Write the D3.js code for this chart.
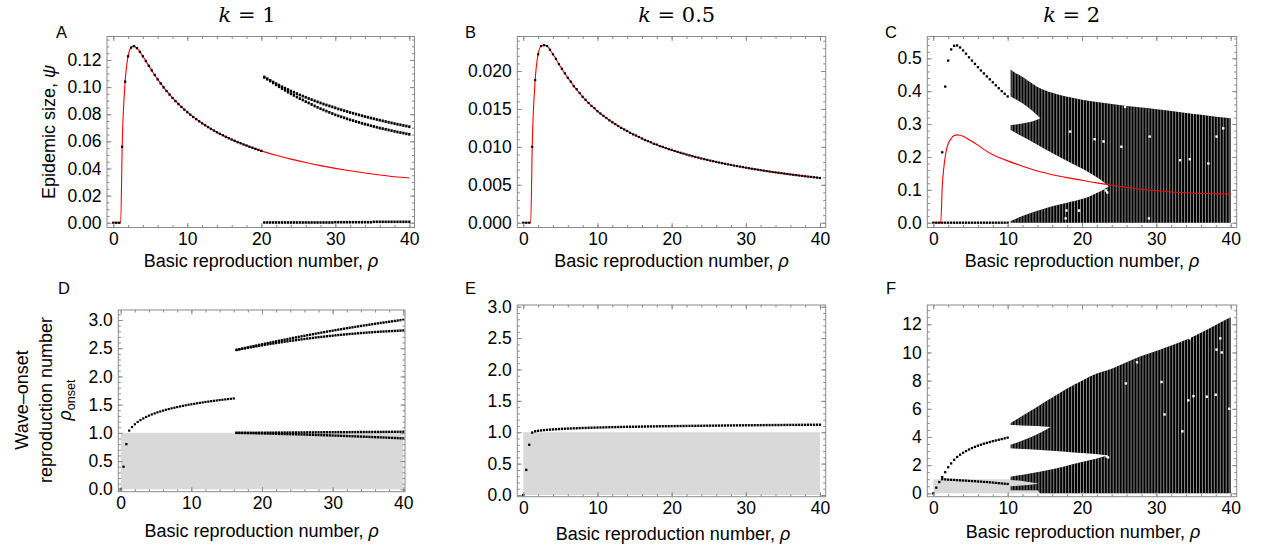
<!DOCTYPE html>
<html>
<head>
<meta charset="utf-8">
<script src="https://cdn.jsdelivr.net/npm/d3@7"></script>
<style>
body { margin: 0; background: #fff; }
svg text { fill: #000; }
.tk { font-family: "Liberation Sans", Arial, sans-serif; font-size: 17.5px; }
.lab { font-family: "Liberation Sans", Arial, sans-serif; font-size: 18px; }
.let { font-family: "Liberation Sans", Arial, sans-serif; font-size: 16.5px; }
.ttl { font-family: "DejaVu Serif", serif; font-size: 21px; }
</style>
</head>
<body>
<svg id="fig" width="1262" height="555"></svg>
<script>
// ---------- data ----------
const K_LABELS = ["1", "0.5", "2"];
const X_TICKS = [0, 10, 20, 30, 40];
const Y_TICKS_A = [0, 0.02, 0.04, 0.06, 0.08, 0.10, 0.12];
const Y_TICKS_B = [0, 0.005, 0.010, 0.015, 0.020];
const Y_TICKS_C = [0, 0.1, 0.2, 0.3, 0.4, 0.5];
const Y_TICKS_DE = [0, 0.5, 1.0, 1.5, 2.0, 2.5, 3.0];
const Y_TICKS_F = [0, 2, 4, 6, 8, 10, 12];
const ONSET_ZONE = [0, 1];   // grey band, rho_onset below 1
const RHO_SPAN = [0, 40];

// simulation grid of rho
const RHO = [0,0.4,0.8,1.2,1.6,2,2.4,2.8,3.2,3.6,
  4,4.4,4.8,5.2,5.6,6,6.4,6.8,7.2,7.6,
  8,8.4,8.8,9.2,9.6,10,10.4,10.8,11.2,11.6,
  12,12.4,12.8,13.2,13.6,14,14.4,14.8,15.2,15.6,
  16,16.4,16.8,17.2,17.6,18,18.4,18.8,19.2,19.6,
  20,20.4,20.8,21.2,21.6,22,22.4,22.8,23.2,23.6,
  24,24.4,24.8,25.2,25.6,26,26.4,26.8,27.2,27.6,
  28,28.4,28.8,29.2,29.6,30,30.4,30.8,31.2,31.6,
  32,32.4,32.8,33.2,33.6,34,34.4,34.8,35.2,35.6,
  36,36.4,36.8,37.2,37.6,38,38.4,38.8,39.2,39.6,
  40];

// A: k = 1, epidemic size
const aRedRho = [0,0.8,1.0,1.2,1.6,2,2.4,2.8,3.2,3.6,4,5,6,8,10,12,14,16,18,20,22,24,26,28,30,32,34,36,38,40];
const aRed = [0,0,0,0.056,0.104,0.1227,0.1291,0.1302,0.1287,0.1260,0.1227,0.1140,0.1057,0.0920,0.0815,0.0733,0.0667,0.0613,0.0569,0.0530,0.0497,0.0469,0.0444,0.0421,0.0401,0.0383,0.0367,0.0352,0.0339,0.0330];
const aDots = [0,0,0,0.056,0.104,0.1227,0.1291,0.1302,0.1287,0.1260,
  0.1227,0.1192,0.1157,0.1123,0.1089,0.1057,0.1027,0.0998,0.0971,0.0945,
  0.0920,0.0897,0.0875,0.0854,0.0834,0.0815,0.0797,0.0780,0.0764,0.0748,
  0.0733,0.0719,0.0705,0.0692,0.0679,0.0667,0.0656,0.0645,0.0634,0.0623,
  0.0613,0.0604,0.0594,0.0586,0.0577,0.0569,0.0560,0.0553,0.0545,0.0537,
  0.0530];
const aUp = [0.1073,0.1061,0.1049,0.1037,0.1025,0.1014,0.1002,0.0992,0.0982,0.0971,
  0.0962,0.0952,0.0942,0.0934,0.0925,0.0916,0.0908,0.0899,0.0891,0.0883,
  0.0875,0.0868,0.0861,0.0854,0.0847,0.0839,0.0833,0.0826,0.0820,0.0813,
  0.0807,0.0801,0.0795,0.0789,0.0783,0.0778,0.0772,0.0767,0.0761,0.0756,
  0.0751,0.0746,0.0741,0.0736,0.0731,0.0726,0.0722,0.0717,0.0713,0.0708];
const aLo = [0.1073,0.1059,0.1045,0.1031,0.1017,0.1003,0.0989,0.0976,0.0963,0.0951,
  0.0939,0.0927,0.0915,0.0905,0.0893,0.0883,0.0872,0.0861,0.0851,0.0841,
  0.0832,0.0823,0.0814,0.0805,0.0796,0.0788,0.0781,0.0774,0.0766,0.0759,
  0.0753,0.0746,0.0740,0.0733,0.0727,0.0722,0.0715,0.0710,0.0704,0.0698,
  0.0694,0.0689,0.0684,0.0679,0.0674,0.0669,0.0665,0.0661,0.0656,0.0652];
const aZero = [0.0002,0.0002,0.0002,0.0002,0.0002,0.0002,0.0002,0.0002,0.0002,0.0002,
  0.0002,0.0002,0.0002,0.0002,0.0002,0.0002,0.0002,0.0002,0.0002,0.0002,
  0.0002,0.0002,0.0002,0.0002,0.0004,0.0004,0.0004,0.0004,0.0004,0.0004,
  0.0004,0.0004,0.0004,0.0004,0.0004,0.0004,0.0004,0.0007,0.0007,0.0007,
  0.0007,0.0007,0.0007,0.0007,0.0007,0.0007,0.0007,0.0007,0.0007,0.0007];

// B: k = 0.5, epidemic size
const bRedRho = [0,0.8,1.0,1.2,1.6,2,2.4,2.8,3.2,3.6,4,5,6,8,10,12,14,16,18,20,24,28,32,36,40];
const bRed = [0,0,0,0.0100,0.0188,0.0222,0.0233,0.0234,0.0233,0.0228,0.0222,0.0206,0.0191,0.0166,0.0147,0.01325,0.01206,0.01109,0.01028,0.00959,0.00847,0.00762,0.00693,0.00637,0.0059];
const bDots = [0,0,0,0.0100,0.0188,0.0222,0.0233,0.0234,0.0233,0.0228,
  0.0222,0.0216,0.0209,0.0203,0.0197,0.0191,0.0186,0.0180,0.0176,0.0171,
  0.0166,0.0162,0.0158,0.0154,0.0151,0.0147,0.0144,0.0141,0.0138,0.0135,
  0.01325,0.0130,0.01275,0.0125,0.0123,0.0121,0.01185,0.01165,0.0115,0.0113,
  0.0111,0.0109,0.01075,0.0106,0.0104,0.0103,0.0101,0.0100,0.00985,0.0097,
  0.0096,0.00946,0.00934,0.00922,0.00911,0.00899,0.00888,0.00877,0.00867,0.00858,
  0.00847,0.00838,0.00829,0.00819,0.00811,0.00802,0.00794,0.00785,0.00777,0.00769,
  0.00762,0.00754,0.00747,0.0074,0.00733,0.00726,0.00719,0.00712,0.00706,0.0070,
  0.00693,0.00687,0.00681,0.00675,0.00669,0.00664,0.00659,0.00653,0.00648,0.00642,
  0.00637,0.00632,0.00627,0.00622,0.00618,0.00612,0.00608,0.00604,0.00599,0.00595,
  0.0059];

// C: k = 2, epidemic size
const cRedRho = [0,0.8,1.0,1.2,1.4,1.6,1.8,2.0,2.4,2.8,3.2,3.6,4,5,6,7,8,9,10,12,14,16,18,20,22,24,26,28,30,32,34,36,38,40];
const cRed = [0,0,0,0.11,0.165,0.2,0.225,0.24,0.256,0.265,0.267,0.266,0.263,0.25,0.236,0.22,0.207,0.197,0.188,0.172,0.157,0.146,0.137,0.129,0.121,0.114,0.1075,0.1015,0.097,0.0935,0.091,0.089,0.0878,0.087];
const cZero = [0,0,0,0,0,0,0,0,0,0,0,0,0,0,0,0,0,0,0,0,0,0,0,0,0,0];
const cUp = [0.214,0.414,0.493,0.527,0.538,0.539,0.533,0.524,0.514,0.503,0.493,0.483,0.473,0.463,0.454,0.445,0.436,0.427,0.418,0.409,0.400,0.392,0.384];
const cTopRho = [10.4,11,12,13,14,15,16,18,20,22,24,26,28,30,32,34,36,38,40];
const cTop = [0.466,0.456,0.443,0.428,0.413,0.403,0.395,0.383,0.374,0.367,0.361,0.355,0.350,0.345,0.340,0.334,0.328,0.322,0.318];
const cBaseRho = [10.4, 40];
const cBase = [0, 0];
const cNotchRho = [10.4,11.5,12.5,13.5,14.4];
const cNotchHi = [0.384,0.370,0.355,0.337,0.318];
const cNotchLo = [0.297,0.300,0.304,0.309,0.318];
const cGapRho = [10.4,12,14,16,18,20,21,22,23,23.6];
const cGapHi = [0.282,0.262,0.237,0.212,0.188,0.165,0.152,0.138,0.122,0.110];
const cGapLo = [0.005,0.020,0.036,0.050,0.061,0.072,0.080,0.090,0.102,0.110];
const cSpeckRho = [18.4,21.7,22.9,25.3,29.1,33.2,34.5,37.0,38.1,39.0,17.9,19.6,17.8,29.0,23.2,23.4,25.8];
const cSpeck = [0.277,0.254,0.247,0.231,0.262,0.190,0.193,0.180,0.262,0.287,0.037,0.037,0.013,0.013,0.098,0.092,0.352];

// D: k = 1, wave-onset reproduction number
const dStart = [0, 0.4, 0.8];
const dCurve = [1.040,1.103,1.152,1.193,1.227,1.256,1.282,1.305,
  1.326,1.345,1.363,1.379,1.394,1.408,1.422,1.434,1.446,1.457,
  1.468,1.478,1.488,1.498,1.507,1.515,1.523,1.531,1.539,1.547,
  1.554,1.561,1.568,1.574,1.581,1.587,1.593,1.599,1.604,1.610];
const dUH = [2.470,2.481,2.493,2.504,2.515,2.526,2.537,2.548,2.559,2.570,
  2.580,2.591,2.601,2.611,2.622,2.632,2.642,2.652,2.662,2.672,
  2.682,2.692,2.701,2.711,2.720,2.730,2.739,2.748,2.758,2.767,
  2.776,2.785,2.794,2.803,2.811,2.820,2.829,2.837,2.845,2.854,
  2.862,2.870,2.878,2.886,2.894,2.902,2.910,2.917,2.925,2.933,
  2.940,2.947,2.955,2.962,2.969,2.976,2.983,2.990,2.997,3.003];
const dUL = [2.470,2.480,2.489,2.498,2.507,2.516,2.525,2.534,2.543,2.551,
  2.560,2.568,2.576,2.584,2.592,2.600,2.607,2.615,2.622,2.629,
  2.636,2.643,2.650,2.657,2.663,2.670,2.676,2.682,2.689,2.695,
  2.700,2.706,2.712,2.717,2.722,2.728,2.733,2.738,2.742,2.747,
  2.752,2.756,2.760,2.764,2.769,2.772,2.776,2.780,2.783,2.787,
  2.790,2.793,2.796,2.799,2.802,2.804,2.807,2.809,2.812,2.814];
const dLH = [1.000,1.000,1.001,1.001,1.001,1.002,1.002,1.002,1.003,1.003,
  1.003,1.004,1.004,1.004,1.005,1.005,1.005,1.006,1.006,1.006,
  1.007,1.007,1.007,1.008,1.008,1.009,1.009,1.009,1.010,1.010,
  1.010,1.011,1.011,1.011,1.012,1.012,1.012,1.013,1.013,1.013,
  1.014,1.014,1.014,1.015,1.015,1.015,1.016,1.016,1.016,1.017,
  1.017,1.017,1.018,1.018,1.018,1.019,1.019,1.019,1.020,1.020];
const dLL = [1.000,0.999,0.998,0.997,0.996,0.995,0.994,0.992,0.991,0.990,
  0.989,0.988,0.986,0.985,0.984,0.982,0.981,0.980,0.978,0.977,
  0.976,0.974,0.973,0.971,0.970,0.968,0.966,0.965,0.963,0.962,
  0.960,0.958,0.957,0.955,0.953,0.951,0.950,0.948,0.946,0.944,
  0.942,0.940,0.938,0.936,0.934,0.932,0.930,0.928,0.926,0.924,
  0.922,0.920,0.918,0.916,0.913,0.911,0.909,0.907,0.904,0.902];

// E: k = 0.5, wave-onset reproduction number
const eStart = [0, 0.4, 0.8];
const eCurve = [0.995,1.015,1.023,1.029,1.034,1.038,1.042,1.045,1.048,1.051,
  1.054,1.056,1.058,1.060,1.062,1.064,1.066,1.068,1.069,1.071,
  1.072,1.074,1.075,1.076,1.077,1.079,1.080,1.081,1.082,1.083,
  1.084,1.085,1.086,1.087,1.088,1.088,1.089,1.090,1.091,1.092,
  1.093,1.093,1.094,1.095,1.095,1.096,1.097,1.097,1.098,1.099,
  1.099,1.100,1.101,1.101,1.102,1.102,1.103,1.103,1.104,1.104,
  1.105,1.105,1.106,1.106,1.107,1.107,1.108,1.108,1.109,1.109,
  1.110,1.110,1.111,1.111,1.111,1.112,1.112,1.113,1.113,1.114,
  1.114,1.114,1.115,1.115,1.115,1.116,1.116,1.117,1.117,1.117,
  1.118,1.118,1.118,1.119,1.119,1.119,1.120,1.120];

// F: k = 2, wave-onset reproduction number
const fStart = [0, 0.4, 0.8];
const fUp = [1.15,1.5,1.85,2.12,2.38,2.58,2.74,2.88,3.0,3.11,3.21,3.3,3.38,3.45,3.52,3.58,3.64,3.7,3.75,3.8,3.85,3.9,3.95];
const fLow = [1.0,0.99,0.97,0.96,0.95,0.93,0.92,0.91,0.9,0.88,0.87,0.86,0.84,0.83,0.81,0.8,0.78,0.76,0.74,0.72,0.7,0.68,0.66];
const fTopRho = [10.4,12,14,16,18,20,22,24,26,28,30,32,34,36,38,40];
const fTop = [5.0,5.5,6.15,6.8,7.45,8.0,8.5,8.85,9.3,9.75,10.1,10.5,10.9,11.4,11.95,12.5];
const fBaseRho = [10.4,14.0,14.4,40];
const fBase = [0.22,0.22,0,0];
const fNotchRho = [10.4,12,14,15.8];
const fNotchHi = [4.85,4.82,4.77,4.7];
const fNotchLo = [3.45,3.75,4.2,4.7];
const fGapRho = [10.4,13,16,19,21,22.5,23.4];
const fGapHi = [3.2,3.12,3.02,2.9,2.82,2.75,2.68];
const fGapLo = [1.18,1.4,1.7,2.1,2.35,2.55,2.68];
const fWedgeRho = [10.4,12,14.2];
const fWedgeHi = [0.95,0.88,0.68];
const fWedgeLo = [0.5,0.56,0.68];
const fSpeckRho = [27.4,34.5,38.1,38.6,34.3,36.8,30.7,25.9,38.8,35.0,38.0,31.1,39.8,23.3,23.5,36.0,33.5];
const fSpeck = [9.3,11.0,10.2,11.0,6.6,6.86,7.9,7.8,10.0,6.9,7.0,5.6,6.0,2.62,2.55,11.7,4.4];

// ---------- layout ----------
const LAYOUT = {
  A: {left: 107, top: 36.5, width: 307.5, height: 191, xDom: [-0.85, 40.7], yDom: [-0.0035, 0.1373], fmt: ".2f", yTicks: Y_TICKS_A, yMinor: 0.005},
  B: {left: 517.3, top: 36.5, width: 308.4, height: 191, xDom: [-0.81, 40.77], yDom: [-0.00063, 0.02455], fmt: ".3f", yTicks: Y_TICKS_B, yMinor: 0.001},
  C: {left: 927.3, top: 36.5, width: 309.4, height: 191, xDom: [-0.81, 40.81], yDom: [-0.0146, 0.5663], fmt: ".1f", yTicks: Y_TICKS_C, yMinor: 0.02},
  D: {left: 118.3, top: 310, width: 286.7, height: 181.7, xDom: [-0.34, 40.24], yDom: [-0.0425, 3.177], fmt: ".1f", yTicks: Y_TICKS_DE, yMinor: 0.1},
  E: {left: 517.3, top: 305, width: 308.4, height: 191.7, xDom: [-0.81, 40.77], yDom: [-0.027, 3.027], fmt: ".1f", yTicks: Y_TICKS_DE, yMinor: 0.1},
  F: {left: 927.3, top: 305, width: 309.4, height: 191.7, xDom: [-0.81, 40.81], yDom: [-0.241, 13.37], fmt: "d", yTicks: Y_TICKS_F, yMinor: 0.5},
};
const LETTER_POS = {A: [56, 38], B: [465, 38], C: [885, 38], D: [58, 294], E: [465, 294], F: [886, 294]};
const XLAB_POS = {A: [261, 267], B: [671.5, 267], C: [1082, 267], D: [261.7, 536.5], E: [673, 540], F: [1083, 538]};
const TITLE_POS = [[247, 21.5], [676.7, 21.5], [1071.7, 21.5]];
const FRAME = "#8a8a8a";

const svg = d3.select("#fig");
const defs = svg.append("defs");

var makePanel = function(id){
  const p = LAYOUT[id];
  const x = d3.scaleLinear().domain(p.xDom).range([p.left, p.left + p.width]);
  const y = d3.scaleLinear().domain(p.yDom).range([p.top + p.height, p.top]);
  defs.append("clipPath").attr("id", "clip" + id)
      .append("rect").attr("x", p.left).attr("y", p.top).attr("width", p.width).attr("height", p.height);
  const g = svg.append("g");
  const plot = g.append("g").attr("clip-path", "url(#clip" + id + ")");
  return {id: id, p: p, g: g, plot: plot, x: x, y: y};
};

var drawFrame = function(P){
  const p = P.p, x = P.x, y = P.y, g = P.g;
  const bottom = p.top + p.height, right = p.left + p.width;
  const xMinor = d3.range(0, 40.001, 2);
  const yMinor = d3.range(0, p.yDom[1], p.yMinor);
  const axes = [
    [d3.axisBottom(x).tickValues(X_TICKS).tickFormat(d3.format("d")).tickSizeInner(-4.5).tickSizeOuter(0).tickPadding(5), "translate(0," + bottom + ")"],
    [d3.axisBottom(x).tickValues(xMinor).tickFormat("").tickSizeInner(-2.5).tickSizeOuter(0), "translate(0," + bottom + ")"],
    [d3.axisTop(x).tickValues(X_TICKS).tickFormat("").tickSizeInner(-4.5).tickSizeOuter(0), "translate(0," + p.top + ")"],
    [d3.axisTop(x).tickValues(xMinor).tickFormat("").tickSizeInner(-2.5).tickSizeOuter(0), "translate(0," + p.top + ")"],
    [d3.axisLeft(y).tickValues(p.yTicks).tickFormat(d3.format(p.fmt)).tickSizeInner(-4.5).tickSizeOuter(0).tickPadding(5.5), "translate(" + p.left + ",0)"],
    [d3.axisLeft(y).tickValues(yMinor).tickFormat("").tickSizeInner(-2.5).tickSizeOuter(0), "translate(" + p.left + ",0)"],
    [d3.axisRight(y).tickValues(p.yTicks).tickFormat("").tickSizeInner(-4.5).tickSizeOuter(0), "translate(" + right + ",0)"],
    [d3.axisRight(y).tickValues(yMinor).tickFormat("").tickSizeInner(-2.5).tickSizeOuter(0), "translate(" + right + ",0)"],
  ];
  axes.forEach(function(a){
    const ag = g.append("g").attr("transform", a[1]).attr("color", FRAME).call(a[0]);
    ag.select(".domain").remove();
    ag.selectAll("text").attr("class", "tk");
  });
  g.append("rect").attr("x", p.left).attr("y", p.top).attr("width", p.width).attr("height", p.height)
   .attr("fill", "none").attr("stroke", FRAME).attr("stroke-width", 1);

  const lp = LETTER_POS[P.id];
  g.append("text").attr("class", "let").attr("x", lp[0]).attr("y", lp[1]).text(P.id);
  const xl = XLAB_POS[P.id];
  const t = g.append("text").attr("class", "lab").attr("x", xl[0]).attr("y", xl[1]).attr("text-anchor", "middle");
  t.append("tspan").text("Basic reproduction number, ");
  t.append("tspan").attr("font-style", "italic").text("ρ");
};

var drawDots = function(P, rho, vals, w, h){
  P.plot.append("g").selectAll("rect")
   .data(d3.zip(rho, vals))
   .join("rect")
   .attr("x", (d) => (P.x(d[0]) - w/2))
   .attr("y", (d) => (P.y(d[1]) - h/2))
   .attr("width", w)
   .attr("height", h)
   .attr("fill", "#000");
};

var drawRed = function(P, rho, vals){
  const line = d3.line().x((d) => P.x(d[0])).y((d) => P.y(d[1])).curve(d3.curveMonotoneX);
  P.plot.append("path").attr("d", line(d3.zip(rho, vals)))
   .attr("fill", "none").attr("stroke", "#ff0000").attr("stroke-width", 1.1);
};

var bandPath = function(P, upRho, upVal, loRho, loVal){
  const line = d3.line().x((d) => P.x(d[0])).y((d) => P.y(d[1])).curve(d3.curveMonotoneX);
  const lo = d3.zip(loRho, loVal).reverse();
  return line(d3.zip(upRho, upVal)) + "L" + line(lo).slice(1) + "Z";
};

// black cloud of bifurcation columns, holes cut out, thin light stripes between columns
var drawCloud = function(P, pathD, speckRho, speckVal){
  P.plot.append("path").attr("d", pathD).attr("fill", "#000").attr("fill-rule", "evenodd");
  defs.append("clipPath").attr("id", "cloud" + P.id)
      .append("path").attr("d", pathD).attr("clip-rule", "evenodd");
  const half = (P.x(0.4) - P.x(0)) / 2;
  const cols = RHO.filter((r) => r >= 10.4 && r < 40);
  P.plot.append("g").attr("clip-path", "url(#cloud" + P.id + ")")
   .selectAll("line").data(cols).join("line")
   .attr("x1", (r) => P.x(r) + half).attr("x2", (r) => P.x(r) + half)
   .attr("y1", P.p.top).attr("y2", P.p.top + P.p.height)
   .attr("stroke", "#ffffff").attr("stroke-opacity", 0.62).attr("stroke-width", 0.9);
  P.plot.append("g").selectAll("rect").data(d3.zip(speckRho, speckVal)).join("rect")
   .attr("x", (d) => P.x(d[0]) - 1.2).attr("y", (d) => P.y(d[1]) - 1.2)
   .attr("width", 2.4).attr("height", 2.4).attr("fill", "#fff");
};

var drawOnsetZone = function(P){
  P.plot.append("rect")
   .attr("x", P.x(RHO_SPAN[0])).attr("y", P.y(ONSET_ZONE[1]))
   .attr("width", P.x(RHO_SPAN[1]) - P.x(RHO_SPAN[0]))
   .attr("height", P.y(ONSET_ZONE[0]) - P.y(ONSET_ZONE[1]))
   .attr("fill", "#d9d9d9");
};

/* ---------------------------------- */
// A
const PA = makePanel("A");
drawRed(PA, aRedRho, aRed);
drawDots(PA, RHO.slice(0, 51), aDots, 2.3, 2.3);
drawDots(PA, RHO.slice(51), aUp, 2.3, 2.8);
drawDots(PA, RHO.slice(51), aLo, 2.3, 2.8);
drawDots(PA, RHO.slice(51), aZero, 2.3, 2.6);
drawFrame(PA);

// B
const PB = makePanel("B");
drawRed(PB, bRedRho, bRed);
drawDots(PB, RHO, bDots, 2.2, 2.2);
drawFrame(PB);

// C
const PC = makePanel("C");
const cPath = bandPath(PC, cTopRho, cTop, cBaseRho, cBase)
            + bandPath(PC, cNotchRho, cNotchHi, cNotchRho, cNotchLo)
            + bandPath(PC, cGapRho, cGapHi, cGapRho, cGapLo);
drawCloud(PC, cPath, cSpeckRho, cSpeck);
drawRed(PC, cRedRho, cRed);
drawDots(PC, RHO.slice(0, 26), cZero, 2.3, 2.3);
drawDots(PC, RHO.slice(3, 26), cUp, 2.3, 2.3);
drawFrame(PC);

// D
const PD = makePanel("D");
drawOnsetZone(PD);
drawDots(PD, RHO.slice(0, 3), dStart, 2.3, 2.3);
drawDots(PD, RHO.slice(3, 41), dCurve, 2.2, 2.2);
drawDots(PD, RHO.slice(41), dUH, 2.2, 2.4);
drawDots(PD, RHO.slice(41), dUL, 2.2, 2.4);
drawDots(PD, RHO.slice(41), dLH, 2.2, 2.4);
drawDots(PD, RHO.slice(41), dLL, 2.2, 2.4);
drawFrame(PD);

// E
const PE = makePanel("E");
drawOnsetZone(PE);
drawDots(PE, RHO.slice(0, 3), eStart, 2.3, 2.3);
drawDots(PE, RHO.slice(3), eCurve, 2.2, 2.4);
drawFrame(PE);

// F
const PF = makePanel("F");
drawOnsetZone(PF);
const fPath = bandPath(PF, fTopRho, fTop, fBaseRho, fBase)
            + bandPath(PF, fNotchRho, fNotchHi, fNotchRho, fNotchLo)
            + bandPath(PF, fGapRho, fGapHi, fGapRho, fGapLo)
            + bandPath(PF, fWedgeRho, fWedgeHi, fWedgeRho, fWedgeLo);
drawCloud(PF, fPath, fSpeckRho, fSpeck);
drawDots(PF, RHO.slice(0, 3), fStart, 2.3, 2.3);
drawDots(PF, RHO.slice(3, 26), fUp, 2.3, 2.3);
drawDots(PF, RHO.slice(3, 26), fLow, 2.3, 2.3);
drawFrame(PF);

// column titles
K_LABELS.forEach(function(k, i){
  const t = svg.append("text").attr("class", "ttl")
               .attr("x", TITLE_POS[i][0]).attr("y", TITLE_POS[i][1]).attr("text-anchor", "middle");
  t.append("tspan").attr("font-style", "italic").text("k");
  t.append("tspan").text(" = " + k);
});

// y axis titles
const ya = svg.append("text").attr("class", "lab").attr("text-anchor", "middle")
              .attr("transform", "translate(55,132) rotate(-90)");
ya.append("tspan").text("Epidemic size, ");
ya.append("tspan").attr("font-style", "italic").text("ψ");

svg.append("text").attr("class", "lab").attr("text-anchor", "middle")
   .attr("transform", "translate(28,400) rotate(-90)").text("Wave–onset");
svg.append("text").attr("class", "lab").attr("text-anchor", "middle")
   .attr("transform", "translate(52,400) rotate(-90)").text("reproduction number");
const yo = svg.append("text").attr("class", "lab").attr("text-anchor", "middle")
              .attr("transform", "translate(71,400) rotate(-90)");
yo.append("tspan").attr("font-style", "italic").text("ρ");
yo.append("tspan").attr("font-size", "12.5px").attr("dy", 4).text("onset");
</script>
</body>
</html>
